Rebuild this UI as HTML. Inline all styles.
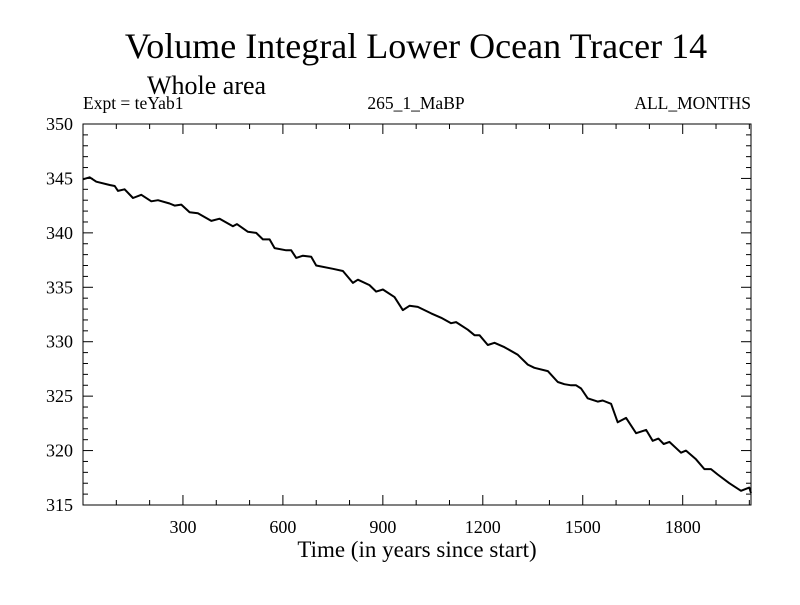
<!DOCTYPE html>
<html><head><meta charset="utf-8"><style>
html,body{margin:0;padding:0;background:#fff;}
svg text{font-family:"Liberation Serif",serif;fill:#000;}
</style></head><body>
<svg width="800" height="600" xmlns="http://www.w3.org/2000/svg">
<text x="416" y="58" font-size="36" text-anchor="middle">Volume Integral Lower Ocean Tracer 14</text>
<text x="147" y="94" font-size="26">Whole area</text>
<text x="83" y="109" font-size="17.5">Expt = teYab1</text>
<text x="416" y="109" font-size="17.5" text-anchor="middle">265_1_MaBP</text>
<text x="751" y="109" font-size="17.5" text-anchor="end">ALL_MONTHS</text>
<g id="axes"></g>
<path id="line" fill="none" stroke="#000" stroke-width="2" stroke-linejoin="round"/>
<rect x="83" y="124" width="668" height="381" fill="none" stroke="#000" stroke-width="1"/>
<text x="417" y="557" font-size="23" text-anchor="middle">Time (in years since start)</text>
</svg>
<script>
const years=[0,20,40,80,95,105,125,150,175,205,225,260,275,295,320,345,385,410,450,462,495,520,540,560,575,610,625,640,660,685,700,750,780,810,825,860,880,900,935,960,980,1005,1045,1075,1105,1120,1155,1175,1190,1215,1235,1265,1305,1335,1355,1395,1425,1445,1465,1480,1495,1515,1545,1560,1585,1605,1630,1660,1690,1710,1727,1743,1760,1795,1810,1840,1865,1885,1905,1940,1975,2000,2010];
const values=[344.92,345.1,344.7,344.4,344.3,343.85,344.0,343.2,343.5,342.9,343.0,342.7,342.5,342.6,341.9,341.8,341.1,341.3,340.6,340.8,340.1,340.0,339.4,339.4,338.6,338.4,338.4,337.7,337.9,337.8,337.0,336.7,336.5,335.4,335.7,335.2,334.6,334.8,334.1,332.9,333.3,333.2,332.6,332.2,331.7,331.8,331.1,330.6,330.6,329.7,329.9,329.5,328.8,327.9,327.6,327.3,326.3,326.1,326.0,326.0,325.7,324.8,324.5,324.6,324.3,322.6,323.0,321.6,321.9,320.9,321.1,320.6,320.8,319.8,320.0,319.2,318.3,318.3,317.8,317.0,316.3,316.6,316.1];
const xTicks=[300,600,900,1200,1500,1800];
const yTicks=[315,320,325,330,335,340,345,350];
const X0=83,X1=751,Y0=124,Y1=505,XMIN=0,XMAX=2005,YMIN=315,YMAX=350;
const sx=v=>X0+(v-XMIN)/(XMAX-XMIN)*(X1-X0);
const sy=v=>Y1-(v-YMIN)/(YMAX-YMIN)*(Y1-Y0);
const NS="http://www.w3.org/2000/svg";
const g=document.getElementById('axes');
function mk(tag,a){const e=document.createElementNS(NS,tag);for(const k in a)e.setAttribute(k,a[k]);g.appendChild(e);return e;}
for(let v=100;v<XMAX;v+=100){
  const major=xTicks.includes(v);const L=major?10:5;
  const t1=mk('line',{x1:sx(v),x2:sx(v),y1:Y1,y2:Y1-L,stroke:'#000'});
  
  
  const t2=mk('line',{x1:sx(v),x2:sx(v),y1:Y0,y2:Y0+L,stroke:'#000'});
  
  
}
xTicks.forEach(v=>{const t=mk('text',{x:sx(v),y:533,'font-size':18,'text-anchor':'middle'});t.textContent=v;
  
  });
for(let v=YMIN+1;v<YMAX;v+=1){
  const major=yTicks.includes(v);const L=major?10:5;
  const t1=mk('line',{x1:X0,x2:X0+L,y1:sy(v),y2:sy(v),stroke:'#000'});
  
  
  const t2=mk('line',{x1:X1,x2:X1-L,y1:sy(v),y2:sy(v),stroke:'#000'});
  
  
}
yTicks.forEach(v=>{const t=mk('text',{x:73,y:sy(v)+6,'font-size':18,'text-anchor':'end'});t.textContent=v;
  
  });
document.getElementById('line').setAttribute('d',years.map((y,i)=>(i?'L':'M')+sx(Math.min(y,XMAX)).toFixed(1)+','+sy(values[i]).toFixed(1)).join(''));
</script>
</body></html>
